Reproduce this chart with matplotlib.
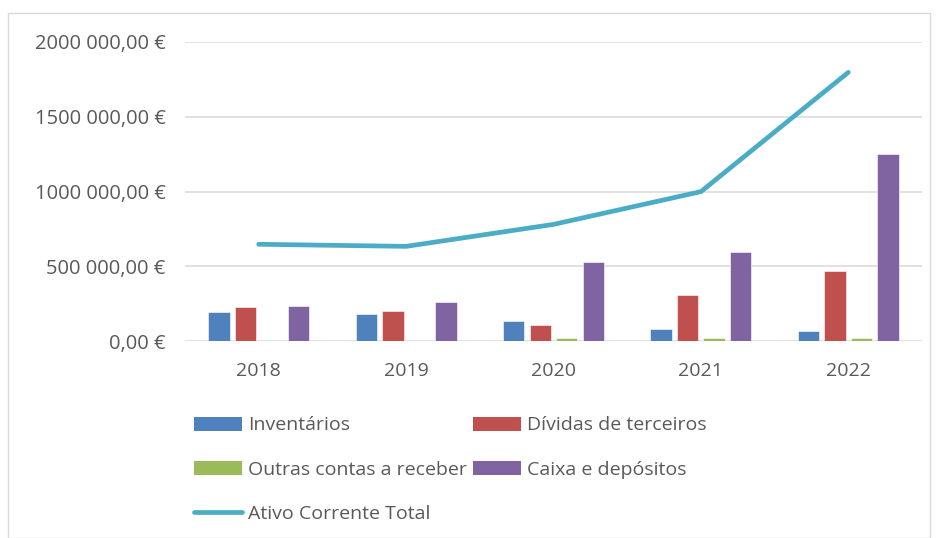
import matplotlib.pyplot as plt
from matplotlib.patches import Patch, Rectangle
from matplotlib.lines import Line2D
from matplotlib.ticker import FuncFormatter
import numpy as np

plt.rcParams['font.family'] = ['Open Sans', 'DejaVu Sans']

years = ['2018', '2019', '2020', '2021', '2022']
inventarios = [194000, 181000, 134000, 82000, 67000]
dividas = [227000, 199000, 109000, 308000, 470000]
outras = [0, 0, 20000, 20000, 22000]
caixa = [232000, 261000, 530000, 597000, 1250000]
ativo_total = [647000, 633000, 780000, 999000, 1797000]

series = [
    ('Inventários', inventarios, '#4f81bd'),
    ('Dívidas de terceiros', dividas, '#c0504d'),
    ('Outras contas a receber', outras, '#9bbb59'),
    ('Caixa e depósitos', caixa, '#8064a2'),
]
line_color = '#4bacc6'
text_color = '#595959'
fs = 14

fig = plt.figure(figsize=(9.39, 5.38), dpi=100)
ax = fig.add_axes([185 / 939, 1 - 341 / 538, 737 / 939, 299 / 538])

x = np.arange(len(years))
width = 0.145
offsets = [-0.27, -0.09, 0.09, 0.27]
for (name, vals, color), off in zip(series, offsets):
    ax.bar(x + off, vals, width, color=color, edgecolor='white', linewidth=0.4, zorder=2)

ax.plot(x, ativo_total, color=line_color, lw=3.4, solid_capstyle='round',
        solid_joinstyle='round', zorder=3)

ax.set_xlim(-0.5, 4.5)
ax.set_ylim(0, 2000000)
ax.set_yticks(np.arange(0, 2000001, 500000))
ax.set_xticks(x)
ax.set_xticklabels(years)


def euro(v, pos):
    s = f'{v:,.2f}'.replace(',', ' ').replace('.', ',')
    if v >= 1000000:
        s = s.replace(' ', '', 1)
    return s + ' €'


ax.yaxis.set_major_formatter(FuncFormatter(euro))
ax.grid(axis='y', color='#d9d9d9', lw=1.1, zorder=0)
ax.set_axisbelow(True)
for sp in ax.spines.values():
    sp.set_visible(False)
ax.tick_params(length=0, labelsize=fs, colors=text_color)
ax.tick_params(axis='y', labelsize=14.5, pad=14)
ax.tick_params(axis='x', pad=15)

handles = [
    Patch(facecolor='#4f81bd', label='Inventários'),
    Patch(facecolor='#9bbb59', label='Outras contas a receber'),
    Line2D([0], [0], color=line_color, lw=3.4, solid_capstyle='round', label='Ativo Corrente Total'),
    Patch(facecolor='#c0504d', label='Dívidas de terceiros'),
    Patch(facecolor='#8064a2', label='Caixa e depósitos'),
]
leg = fig.legend(handles=handles, ncol=2, loc='upper left',
                 bbox_to_anchor=(176 / 939, 1 - 399 / 538), frameon=False,
                 fontsize=fs, labelcolor=text_color, handlelength=2.5,
                 handleheight=0.7, handletextpad=0.3, labelspacing=1.35,
                 columnspacing=0.3)

fig.patches.append(Rectangle((8 / 939, 0), 922 / 939, 1 - 13 / 538, transform=fig.transFigure,
                             fill=False, edgecolor='#d9d9d9', lw=1))

fig.savefig('out.png', dpi=100)
